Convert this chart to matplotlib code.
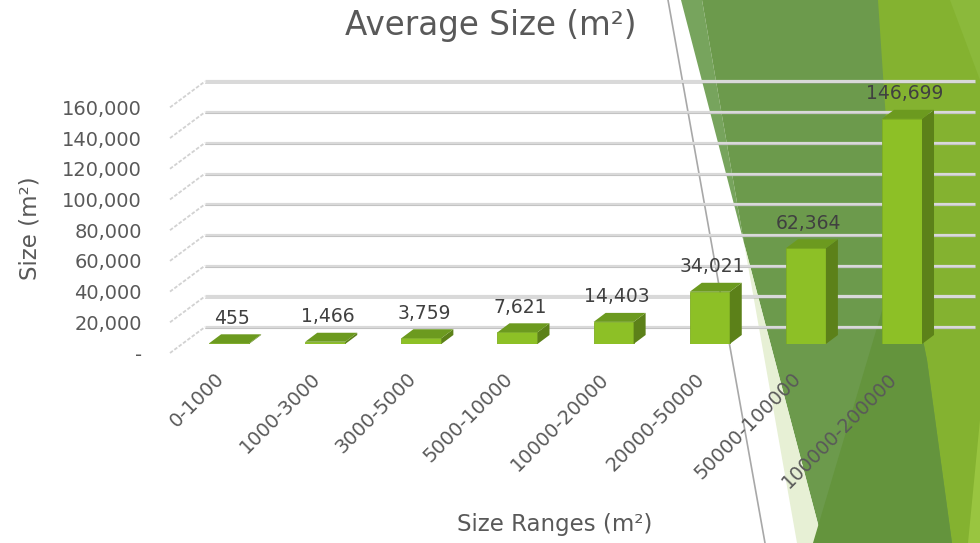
import matplotlib
matplotlib.use("Agg")
import matplotlib.pyplot as plt
import matplotlib.transforms as mtransforms
from matplotlib.patches import Polygon

# data
categories = ["0-1000", "1000-3000", "3000-5000", "5000-10000",
              "10000-20000", "20000-50000", "50000-100000", "100000-200000"]
avg_size = [455, 1466, 3759, 7621, 14403, 34021, 62364, 146699]
y_ticks = [0, 20000, 40000, 60000, 80000, 100000, 120000, 140000, 160000]
y_tick_labels = ["-" if t == 0 else f"{t:,}" for t in y_ticks]

W, H = 980, 543
fig = plt.figure(figsize=(W / 100, H / 100), dpi=100)
fig.patch.set_facecolor("white")

# slide decoration (background shapes, pixel coords)
bg = fig.add_axes([0, 0, 1, 1], zorder=0)
bg.set_xlim(0, W)
bg.set_ylim(H, 0)
bg.axis("off")
shapes = [
    ([(681, 0), (702, 0), (744, 243)], "#77a45d"),
    ([(702, 0), (980, 0), (980, 543), (823, 543), (744, 243)], "#6c9a4c"),
    ([(744, 243), (823, 543), (797, 543)], "#e7f0d5"),
    ([(878, 0), (980, 0), (980, 543), (952, 543), (927, 360), (890, 180)], "#84b230"),
    ([(950, 0), (980, 0), (980, 80)], "#8bb93b"),
    ([(903, 240), (927, 360), (952, 543), (813, 543)], "#64943d"),
    ([(980, 420), (980, 543), (968, 543)], "#99c540"),
]
for pts, col in shapes:
    bg.add_patch(Polygon(pts, closed=True, facecolor=col, edgecolor="none"))
bg.plot([668, 765], [0, 543], color="#a8a8a8", lw=1.2)

# main axes = plane of the bar fronts
x0, x1 = -0.49, 7.52
ax_left, ax_bottom_px, ax_w, ax_h = 182, 344, 770, 245.6
ax = fig.add_axes([ax_left / W, (H - ax_bottom_px) / H, ax_w / W, ax_h / H], zorder=1)
ax.patch.set_alpha(0)
ax.set_xlim(x0, x1)
ax.set_ylim(0, 160000)
for s in ax.spines.values():
    s.set_visible(False)

sx = ax_w / (x1 - x0)      # px per category
sy = ax_h / 160000         # px per m2

def off(dx, dy):
    # pixel offset (dy positive = up)
    return mtransforms.ScaledTranslation(dx / 100, dy / 100, fig.dpi_scale_trans)

back = ax.transData + off(23, 17)

# back wall gridlines and left wall stubs
for t in y_ticks:
    ax.plot([x0, x1], [t, t], transform=back, color="#d9d9d9", lw=2.3,
            solid_capstyle="butt", clip_on=False, zorder=1)
    ax.plot([x0, x1], [t, t], transform=ax.transData + off(23, 15.8),
            color="#9a9a9a", lw=0.7, alpha=0.35, clip_on=False, zorder=1)
    ax.plot([x0 - 12 / sx, x0 + 23 / sx], [t - 9 / sy, t + 17 / sy],
            color="#d2d2d2", lw=1.3, ls=(0, (2, 1)), clip_on=False, zorder=1)

# y tick labels on the front plane
ax.set_yticks(y_ticks, y_tick_labels)
ax.tick_params(axis="y", length=0, pad=29, labelsize=14, labelcolor="#595959")
for lbl in ax.get_yticklabels():
    lbl.set_transform(lbl.get_transform() + off(0, -9))

# x tick labels
x = list(range(len(categories)))
ax.set_xticks(x, categories)
ax.tick_params(axis="x", length=0, pad=23, labelsize=14, labelcolor="#595959")
for lbl in ax.get_xticklabels():
    lbl.set_rotation(45)
    lbl.set_ha("right")
    lbl.set_va("center")
    lbl.set_rotation_mode("anchor")
    lbl.set_transform(lbl.get_transform() + off(-8, 0))

# 3D-looking bars
bw = 40 / sx
ddx, ddy = 12 / sx, 9 / sy
ax.bar(x, avg_size, width=bw, color="#8dc026", edgecolor="#7fae22", lw=0.6, zorder=3)
for xi, v in zip(x, avg_size):
    l, r = xi - bw / 2, xi + bw / 2
    ax.add_patch(Polygon([(r, 0), (r + ddx, ddy), (r + ddx, v + ddy), (r, v)],
                         closed=True, facecolor="#5c8119", edgecolor="none", zorder=3))
    ax.add_patch(Polygon([(l, v), (r, v), (r + ddx, v + ddy), (l + ddx, v + ddy)],
                         closed=True, facecolor="#6c9a1f", edgecolor="none", zorder=3))
    ax.annotate(f"{v:,}", xy=(xi, v), xytext=(3, 25), textcoords="offset pixels",
                ha="center", va="center", fontsize=13.5, color="#404040", zorder=4)

# titles
fig.text(491 / W, 1 - 25 / H, "Average Size (m²)", ha="center", va="center",
         fontsize=23.5, color="#595959")
fig.text(30 / W, 1 - 228 / H, "Size (m²)", ha="center", va="center",
         rotation=90, fontsize=16.5, color="#595959")
fig.text(555 / W, 1 - 524 / H, "Size Ranges (m²)", ha="center", va="center",
         fontsize=16.5, color="#595959")

fig.savefig("out.png", dpi=100)
